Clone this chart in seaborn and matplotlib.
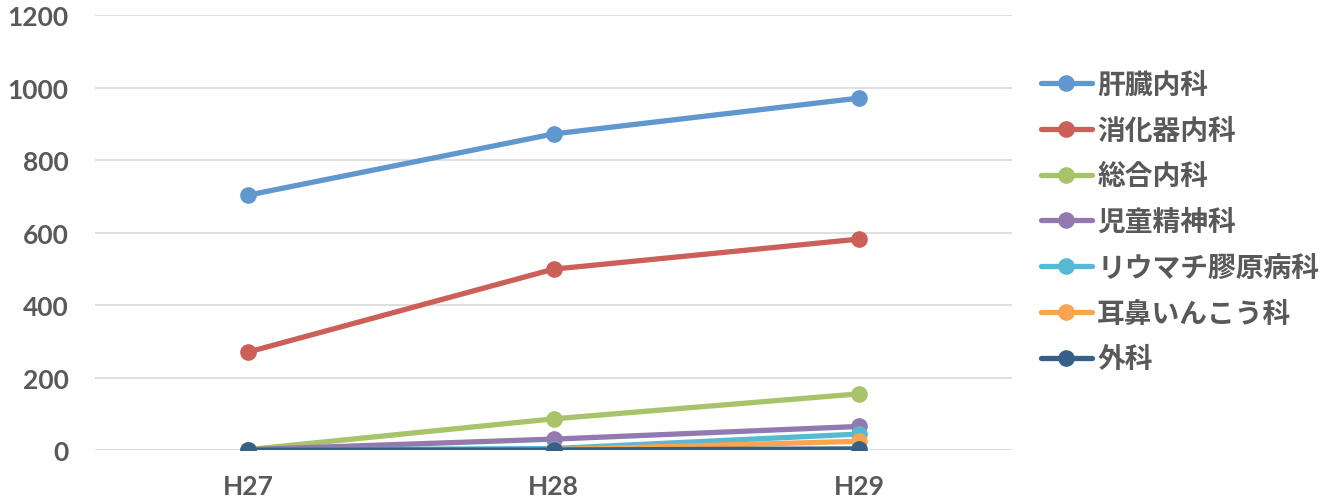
import matplotlib
matplotlib.use("Agg")
import matplotlib.pyplot as plt
import seaborn as sns
import pandas as pd

years = ["H27", "H28", "H29"]
departments = ["肝臓内科", "消化器内科", "総合内科", "児童精神科", "リウマチ膠原病科", "耳鼻いんこう科", "外科"]
liver = [703, 872, 971]
gastro = [270, 499, 582]
general = [1, 86, 155]
child_psych = [1, 30, 65]
rheumatology = [0, 4, 44]
ent = [0, 1, 24]
surgery = [0, 0, 3]
colors = ["#5F97CE", "#CC5F58", "#A8C46A", "#9279B0", "#57B9D2", "#F9A450", "#376089"]

series = [liver, gastro, general, child_psych, rheumatology, ent, surgery]
df = pd.DataFrame(
    [(d, y, v) for d, vals in zip(departments, series) for y, v in zip(years, vals)],
    columns=["dept", "year", "count"],
)

sns.set_theme(style="white")
plt.rcParams["font.family"] = ["Noto Sans CJK JP", "DejaVu Sans"]

fig = plt.figure(figsize=(13.23, 5.02), dpi=100)
ax = fig.add_axes([0.0718, 0.1016, 0.6932, 0.8664])

sns.lineplot(
    data=df, x="year", y="count", hue="dept", hue_order=departments,
    palette=colors, marker="o", markersize=12, markeredgewidth=0,
    linewidth=3.8, sort=False, ax=ax,
)

ax.set_xlim(-0.5, 2.5)
ax.set_ylim(0, 1200)
ax.set_yticks(range(0, 1201, 200))
ax.grid(axis="y", color="#D9D9D9", linewidth=1.2)
ax.set_axisbelow(True)
for s in ax.spines.values():
    s.set_visible(False)
ax.set_xlabel("")
ax.set_ylabel("")
ax.tick_params(axis="x", length=0, pad=17, labelcolor="#595959")
ax.tick_params(axis="y", length=0, pad=19, labelcolor="#595959")
for lbl in ax.get_xticklabels() + ax.get_yticklabels():
    lbl.set_fontfamily(["Lato", "DejaVu Sans"])
    lbl.set_fontweight("bold")
    lbl.set_fontsize(19)

handles, labels = ax.get_legend_handles_labels()
ax.legend(
    handles, labels, loc="center left", bbox_to_anchor=(1.031, 0.524),
    frameon=False, handlelength=1.85, labelspacing=0.64, borderpad=0,
    borderaxespad=0, handletextpad=0.2, labelcolor="#595959",
    prop={"family": ["Noto Sans CJK JP", "DejaVu Sans"], "size": 20, "weight": "bold"},
)

fig.savefig("out.png", dpi=100)
